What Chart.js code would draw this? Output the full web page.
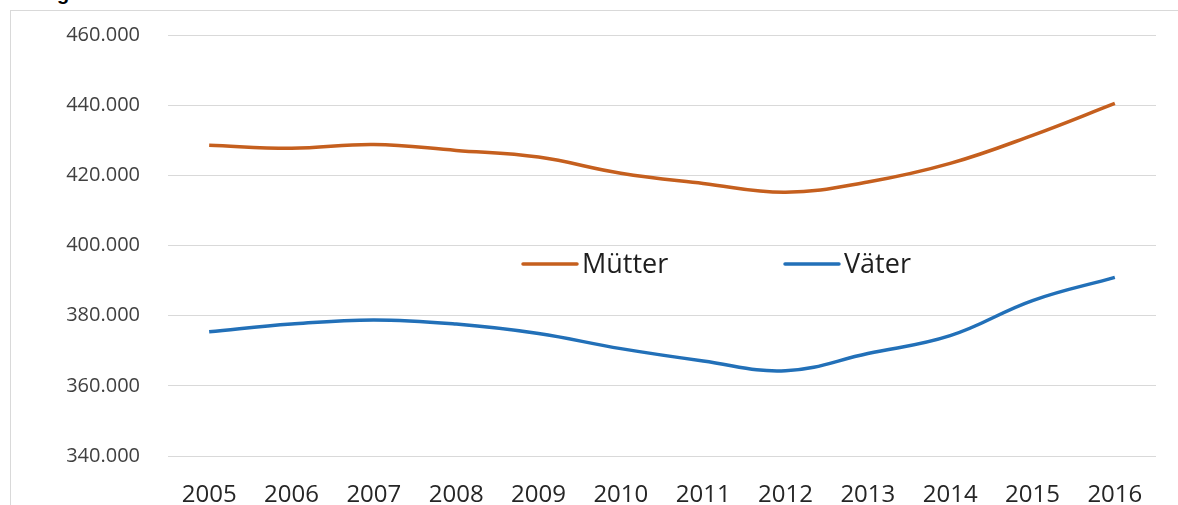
<!DOCTYPE html>
<html lang="de">
<head>
<meta charset="utf-8">
<script src="https://cdn.jsdelivr.net/npm/chart.js@4/dist/chart.umd.min.js"></script>
<style>
    html, body {
        margin: 0;
        padding: 0;
        background: #ffffff;
        overflow: hidden;
    }
    #frame {
        position: absolute;
        left: 10px;
        top: 10px;
        width: 1168px;
        height: 495px;
        border-top: 1px solid #d9d9d9;
        border-left: 1px solid #d9d9d9;
    }
    #cut-title {
        position: absolute;
        left: 57px;
        top: -17px;
        font: bold 20px "Liberation Sans", sans-serif;
        line-height: 20px;
        color: #000000;
    }
    #wrap {
        position: absolute;
        left: 0;
        top: 0;
        width: 1178px;
        height: 505px;
    }
</style>
</head>
<body>
<div id="frame"></div>
<div id="cut-title">g</div>
<div id="wrap"><canvas id="eltern-chart"></canvas></div>
<script>
const years = ["2005", "2006", "2007", "2008", "2009", "2010", "2011", "2012", "2013", "2014", "2015", "2016"];
const muetter = [428600, 427700, 428800, 427100, 425200, 420600, 417700, 415200, 418100, 423400, 431400, 440500];
const vaeter = [375400, 377600, 378800, 377600, 374900, 370600, 367100, 364300, 369200, 374300, 384300, 390900];
const yTicks = [340000, 360000, 380000, 400000, 420000, 440000, 460000];

const formatTausend = (v) => String(v).replace(/\B(?=(\d{3})+(?!\d))/g, ".");

// legend drawn inside the plot, like the original
const innerLegend = {
    id: "innerLegend",
    afterDraw(chart, args, opts) {
        const ctx = chart.ctx;
        ctx.save();
        ctx.font = opts.font;
        ctx.textBaseline = "middle";
        ctx.textAlign = "left";
        chart.data.datasets.forEach((ds, i) => {
            const x = opts.xs[i];
            const y = opts.y;
            ctx.strokeStyle = ds.borderColor;
            ctx.lineWidth = ds.borderWidth;
            ctx.lineCap = "round";
            ctx.beginPath();
            ctx.moveTo(x, y);
            ctx.lineTo(x + 54, y);
            ctx.stroke();
            ctx.fillStyle = "#1e1e1e";
            ctx.fillText(ds.label, x + 59, y + 1);
        });
        ctx.restore();
    },
};

const elternChart = () => {
    const canvas = document.getElementById("eltern-chart");
    if (!canvas) return;
    const ctx = canvas.getContext("2d");

    new Chart(ctx, {
        type: "line",
        data: {
            labels: years,
            datasets: [
                {
                    label: "Mütter",
                    data: muetter,
                    borderColor: "#C55F1E",
                    borderWidth: 3.5,
                    pointRadius: 0,
                    tension: 0.4,
                    fill: false,
                },
                {
                    label: "Väter",
                    data: vaeter,
                    borderColor: "#2270B8",
                    borderWidth: 3.5,
                    pointRadius: 0,
                    tension: 0.4,
                    fill: false,
                },
            ],
        },
        options: {
            responsive: true,
            maintainAspectRatio: false,
            animation: false,
            layout: {
                padding: { top: 35, right: 22, left: 0, bottom: 0 },
            },
            scales: {
                x: {
                    offset: true,
                    grid: { display: false },
                    border: { display: false },
                    ticks: {
                        color: "#262626",
                        padding: 17,
                        maxRotation: 0,
                        font: { family: "'Open Sans', sans-serif", size: 24 },
                    },
                    afterFit: (scale) => {
                        scale.height = 49;
                    },
                },
                y: {
                    min: 340000,
                    max: 460000,
                    afterBuildTicks: (scale) => {
                        scale.ticks = yTicks.map((v) => ({ value: v }));
                    },
                    grid: {
                        color: "#d9d9d9",
                        lineWidth: 1,
                        drawTicks: false,
                    },
                    border: { display: false },
                    ticks: {
                        color: "#404040",
                        padding: 28,
                        font: { family: "'Open Sans', sans-serif", size: 20 },
                        callback: (value) => formatTausend(value),
                    },
                    afterFit: (scale) => {
                        scale.width = 168;
                        // tick padding would otherwise push the plot top down
                        scale.paddingTop = 0;
                        scale.paddingBottom = 0;
                    },
                },
            },
            plugins: {
                legend: { display: false },
                tooltip: { enabled: false },
                innerLegend: {
                    xs: [523, 785],
                    y: 264,
                    font: "27px 'Open Sans', sans-serif",
                },
            },
        },
        plugins: [innerLegend],
    });
};

document.addEventListener("DOMContentLoaded", () => {
    elternChart();
});
</script>
</body>
</html>
